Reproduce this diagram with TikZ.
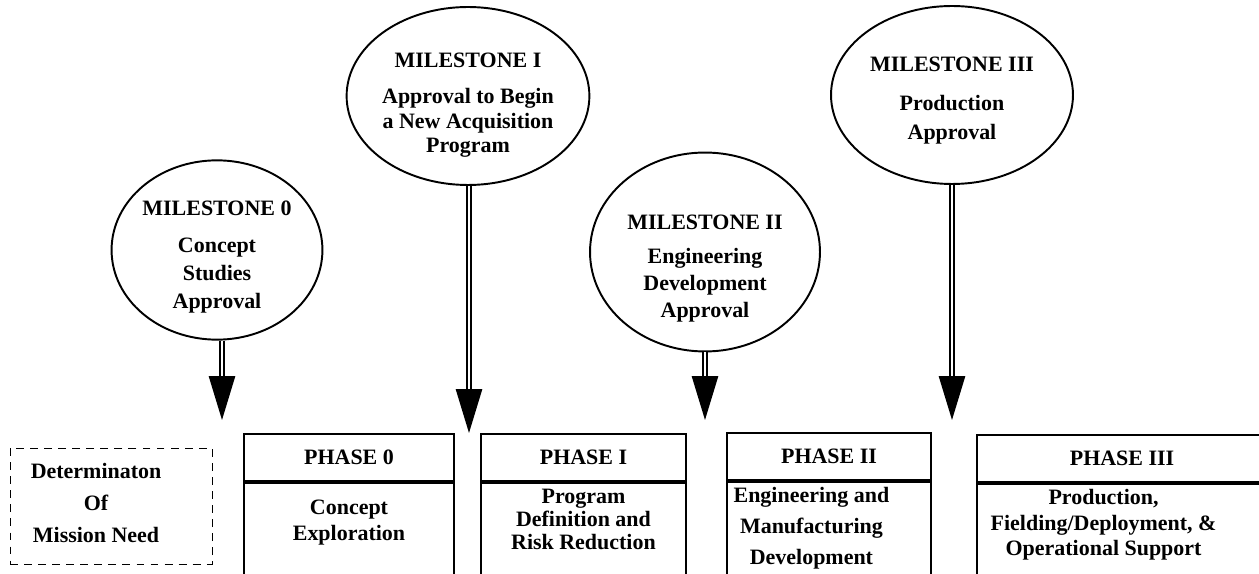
\documentclass[tikz,border=0pt]{standalone}
\usepackage{fontspec}
\setmainfont{Liberation Serif}
\usetikzlibrary{shapes.geometric,arrows.meta,positioning}

\begin{document}
\begin{tikzpicture}[x=0.02cm,y=-0.02cm,
  every node/.style={font=\bfseries\fontsize{12.5}{15}\selectfont},
  milestone/.style={draw,ellipse,line width=1.1pt,inner sep=0pt,align=center},
  phasehead/.style={draw,line width=1.3pt,minimum height=0.94cm,inner sep=0pt},
  phasebody/.style={draw,line width=1.3pt,minimum height=2.4cm,inner sep=0pt,anchor=north},
  phasetext/.style={inner sep=0pt,align=center},
  needbox/.style={draw,dash pattern=on 4.5pt off 3.5pt,line width=0.5pt,minimum width=4.04cm,minimum height=2.32cm},
  shaft/.style={double,double distance=1.7pt,line width=0.8pt,-{Triangle[length=25pt,width=15pt]}}
]
\useasboundingbox (0,0) rectangle (1259,574);
\clip (0,0) rectangle (1259,574);

% 里程碑
\node[milestone,minimum width=4.0cm,minimum height=3.52cm] (m0) at (217,250)
  {\rule{0pt}{16.5pt}MILESTONE 0\\[6pt] Concept\\[1pt] Studies\\[1pt] Approval};
\node[milestone,minimum width=4.64cm,minimum height=3.56cm] (m1) at (468,96)
  {\rule{0pt}{19pt}MILESTONE I\\[5.4pt] Approval to Begin\\[-1pt] a New Acquisition\\[-1pt] Program};
\node[milestone,minimum width=4.6cm,minimum height=3.6cm] (m2) at (705,252)
  {\rule{0pt}{27pt}MILESTONE II\\[4.8pt] Engineering\\[0.3pt] Development\\[0.3pt] Approval};
\node[milestone,minimum width=4.84cm,minimum height=3.56cm] (m3) at (952,95)
  {\rule{0pt}{14.5pt}MILESTONE III\\[7pt] Production\\[1.4pt] Approval};

\coordinate (t0) at (222,420);
\coordinate (t1) at (469,433);
\coordinate (t2) at (705,420);
\coordinate (t3) at (952,420);
\foreach \m/\t in {m0/t0,m1/t1,m2/t2,m3/t3}
  \draw[shaft] (\m.south -| \t) -- (\t);

% 阶段
\node[needbox] (need) at (111,506) {};
\node[phasetext,xshift=-8.5pt,yshift=1.7pt] (needtext) at (need) {Determinaton\\[3.4pt] Of\\[3.4pt] Mission Need};

\node[phasehead,minimum width=4.2cm] (p0) at (349,457.5) {PHASE 0};
\node[phasehead,minimum width=4.1cm] (p1) at (583.5,457.5) {PHASE I};
\node[phasehead,minimum width=4.08cm] (p2) at (829,456.5) {PHASE II};
\node[phasehead,minimum width=5.8cm] (p3) at (1122,458.5) {PHASE III};

\foreach \p/\w in {0/4.2cm,1/4.1cm,2/4.08cm,3/5.8cm}
  \node[phasebody,minimum width=\w] (b\p) at (p\p.south) {};

\node[phasetext,below=10pt of p0] (c0) {Concept\\ Exploration};
\node[phasetext,below=4pt of p1] (c1) {Program\\[-2pt] Definition and\\[-2pt] Risk Reduction};
\node[phasetext,below=3.5pt of p2,xshift=-10pt] (c2) {Engineering and\\[2.6pt] Manufacturing\\[2.6pt] Development};
\node[phasetext,below=3.5pt of p3,xshift=-10.5pt] (c3) {Production,\\[-0.6pt] Fielding/Deployment, \&\\[-0.6pt] Operational Support};

\end{tikzpicture}
\end{document}
